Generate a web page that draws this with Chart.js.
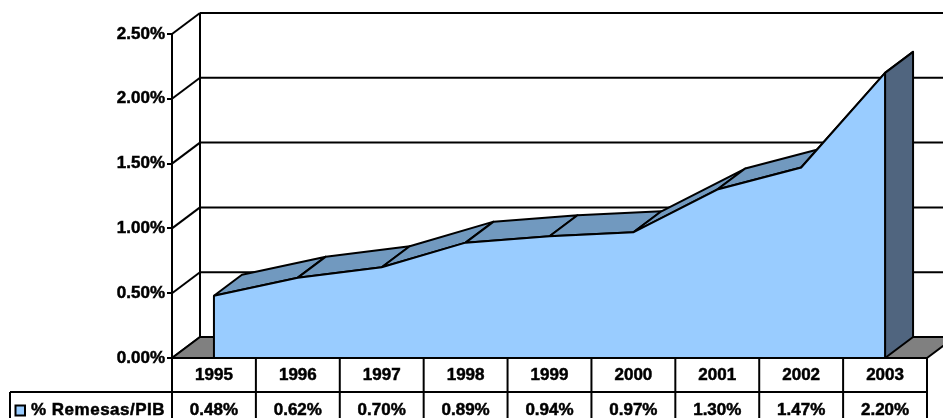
<!DOCTYPE html>
<html>
<head>
<meta charset="utf-8">
<title>% Remesas/PIB</title>
<script src="https://cdn.jsdelivr.net/npm/chart.js@4"></script>
<style>
  html, body { margin: 0; padding: 0; background: #fff; overflow: hidden; }
  canvas { display: block; }
</style>
</head>
<body>
<canvas id="myChart" width="943" height="418"></canvas>
<script>
const years = ['1995', '1996', '1997', '1998', '1999', '2000', '2001', '2002', '2003'];
const remesas = [0.48, 0.62, 0.70, 0.89, 0.94, 0.97, 1.30, 1.47, 2.20];
const remesasLabels = ['0.48%', '0.62%', '0.70%', '0.89%', '0.94%', '0.97%', '1.30%', '1.47%', '2.20%'];
const yTickLabels = ['0.00%', '0.50%', '1.00%', '1.50%', '2.00%', '2.50%'];
const serieName = '% Remesas/PIB';

const FONT = 'bold 17px "Liberation Sans", Arial, sans-serif';
const DX = 28;   // profundidad 3D
const DY = -21;
const LW = 2;
const TEXT_STROKE = 0.5;

function poly(ctx, pts, fill) {
  ctx.beginPath();
  pts.forEach((p, i) => i ? ctx.lineTo(p[0], p[1]) : ctx.moveTo(p[0], p[1]));
  ctx.closePath();
  if (fill) {
    ctx.fillStyle = fill;
    ctx.fill();
  }
  ctx.stroke();
}

function line(ctx, x1, y1, x2, y2) {
  ctx.beginPath();
  ctx.moveTo(x1, y1);
  ctx.lineTo(x2, y2);
  ctx.stroke();
}

function boldText(ctx, txt, px, py) {
  ctx.fillText(txt, px, py);
  ctx.strokeText(txt, px, py);
}

// paredes, piso y caras de profundidad del area
const fondo3d = {
  id: 'fondo3d',
  beforeDatasetsDraw(chart) {
    const { ctx, chartArea, scales: { x, y } } = chart;
    const y0 = y.getPixelForValue(0);
    ctx.save();
    ctx.strokeStyle = '#000';
    ctx.lineWidth = LW;
    ctx.lineJoin = 'round';

    y.ticks.forEach(t => {
      const py = y.getPixelForValue(t.value);
      line(ctx, chartArea.left, py, chartArea.left + DX, py + DY);
      line(ctx, chartArea.left + DX, py + DY, chart.width, py + DY);
    });
    line(ctx, chartArea.left + DX, chartArea.top + DY, chartArea.left + DX, y0 + DY);

    poly(ctx, [
      [chartArea.left, y0],
      [chartArea.left + DX, y0 + DY],
      [chartArea.right + DX, y0 + DY],
      [chartArea.right, y0]
    ], '#808080');

    // cara superior, tramo por tramo
    for (let i = 0; i < remesas.length - 1; i++) {
      const xa = x.getPixelForValue(i), ya = y.getPixelForValue(remesas[i]);
      const xb = x.getPixelForValue(i + 1), yb = y.getPixelForValue(remesas[i + 1]);
      poly(ctx, [[xa, ya], [xa + DX, ya + DY], [xb + DX, yb + DY], [xb, yb]], '#7199BF');
    }

    // cara lateral derecha
    const last = remesas.length - 1;
    const xl = x.getPixelForValue(last), yl = y.getPixelForValue(remesas[last]);
    poly(ctx, [[xl, yl], [xl + DX, yl + DY], [xl + DX, y0 + DY], [xl, y0]], '#50657F');
    ctx.restore();
  },
  afterDatasetsDraw(chart) {
    const { ctx, scales: { x, y } } = chart;
    const y0 = y.getPixelForValue(0);
    const last = remesas.length - 1;
    const x0 = x.getPixelForValue(0), xl = x.getPixelForValue(last);
    ctx.save();
    ctx.strokeStyle = '#000';
    ctx.lineWidth = LW;
    line(ctx, x0, y.getPixelForValue(remesas[0]), x0, y0);
    line(ctx, xl, y.getPixelForValue(remesas[last]), xl, y0);
    ctx.restore();
  }
};

// tabla de datos debajo del grafico
const tabla = {
  id: 'tabla',
  afterDraw(chart) {
    const { ctx, chartArea, scales: { x, y } } = chart;
    const top = y.getPixelForValue(0);
    const row = top + 34;
    const cw = (chartArea.right - chartArea.left) / years.length;
    ctx.save();
    ctx.strokeStyle = '#000';
    ctx.lineWidth = LW;
    line(ctx, chartArea.left, top, chartArea.right, top);
    line(ctx, 10, row, chartArea.right, row);
    line(ctx, 10, row, 10, chart.height);
    for (let i = 0; i <= years.length; i++) {
      const px = chartArea.left + cw * i;
      line(ctx, px, top, px, chart.height);
    }
    ctx.fillStyle = '#000';
    ctx.font = FONT;
    ctx.textBaseline = 'alphabetic';
    ctx.textAlign = 'center';
    ctx.lineWidth = TEXT_STROKE;
    remesasLabels.forEach((txt, i) => boldText(ctx, txt, x.getPixelForValue(i), 415));
    ctx.textAlign = 'left';
    ctx.letterSpacing = '0.5px';
    boldText(ctx, serieName, 31, 415);
    ctx.letterSpacing = '0px';
    ctx.lineWidth = LW;
    ctx.fillStyle = '#99CCFF';
    ctx.fillRect(15.5, 405.5, 9.5, 10);
    ctx.strokeRect(15.5, 405.5, 9.5, 10);
    ctx.restore();
  }
};

const ctx = document.getElementById('myChart');

new Chart(ctx, {
  type: 'line',
  data: {
    labels: years,
    datasets: [{
      label: serieName,
      data: remesas,
      fill: 'origin',
      backgroundColor: '#99CCFF',
      borderColor: '#000',
      borderWidth: LW,
      pointRadius: 0,
      tension: 0,
      clip: false
    }]
  },
  options: {
    responsive: false,
    animation: false,
    layout: { padding: { top: 34, right: 16, left: 0, bottom: 0 } },
    plugins: { legend: { display: false }, tooltip: { enabled: false } },
    scales: {
      x: {
        offset: true,
        afterFit(scale) { scale.height = 60; },
        grid: { display: false },
        border: { display: false },
        ticks: {
          color: '#000',
          font: { family: '"Liberation Sans", Arial, sans-serif', size: 17, weight: 'bold' },
          padding: -1,
          maxRotation: 0,
          textStrokeColor: '#000',
          textStrokeWidth: TEXT_STROKE
        }
      },
      y: {
        min: 0,
        max: 2.5,
        afterFit(scale) { scale.width = 172; },
        grid: { drawOnChartArea: false, tickLength: 5, color: '#000', lineWidth: LW },
        border: { display: true, color: '#000', width: LW },
        ticks: {
          stepSize: 0.5,
          color: '#000',
          padding: 2,
          font: { family: '"Liberation Sans", Arial, sans-serif', size: 17, weight: 'bold' },
          textStrokeColor: '#000',
          textStrokeWidth: TEXT_STROKE,
          callback: (v, i) => yTickLabels[i]
        }
      }
    }
  },
  plugins: [fondo3d, tabla]
});
</script>
</body>
</html>
